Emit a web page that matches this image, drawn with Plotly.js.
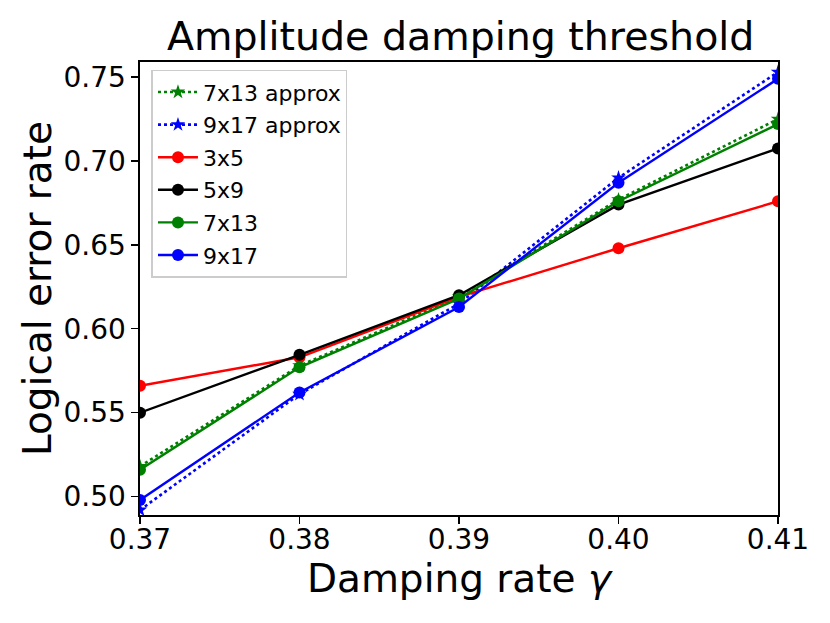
<!DOCTYPE html>
<html>
<head>
<meta charset="utf-8">
<script src="https://cdn.plot.ly/plotly-3.0.1.min.js"></script>
<style>
  html, body { margin: 0; padding: 0; background: #fff; }
  #chart { width: 830px; height: 623px; }
</style>
</head>
<body>
<div id="chart"></div>
<script>
const gamma = [0.37, 0.38, 0.39, 0.40, 0.41];

const approx7x13 = [0.518, 0.578, 0.619, 0.677, 0.725];
const approx9x17 = [0.492, 0.561, 0.615, 0.690, 0.753];
const err3x5 = [0.566, 0.583, 0.619, 0.648, 0.676];
const err5x9 = [0.550, 0.5845, 0.620, 0.674, 0.7075];
const err7x13 = [0.516, 0.577, 0.618, 0.676, 0.722];
const err9x17 = [0.498, 0.562, 0.613, 0.687, 0.749];

const xTicks = [0.37, 0.38, 0.39, 0.40, 0.41];
const yTicks = [0.50, 0.55, 0.60, 0.65, 0.70, 0.75];

function approxTrace(y, name, color) {
	return {
		x: gamma, y: y, name: name, legendgroup: name,
		type: "scatter", mode: "lines+markers",
		line: { color: color, width: 2.6, dash: "dot" },
		marker: { symbol: "star", size: 11, color: color }
	};
}
function solidTrace(y, name, color) {
	return {
		x: gamma, y: y, name: name, legendgroup: name,
		type: "scatter", mode: "lines+markers",
		line: { color: color, width: 2.4 },
		marker: { symbol: "circle", size: 12, color: color }
	};
}

const traces = [
	approxTrace(approx7x13, "7x13 approx", "#008000"),
	approxTrace(approx9x17, "9x17 approx", "#0000ff"),
	solidTrace(err3x5, "3x5", "#ff0000"),
	solidTrace(err5x9, "5x9", "#000000"),
	solidTrace(err7x13, "7x13", "#008000"),
	solidTrace(err9x17, "9x17", "#0000ff")
];

Plotly.newPlot("chart", traces, {
	width: 830,
	height: 623,
	paper_bgcolor: "#fff",
	plot_bgcolor: "#fff",
	font: { family: "DejaVu Sans, sans-serif", color: "#000", size: 28 },
	margin: { l: 140, r: 52, t: 62, b: 108 },
	title: {
		text: "Amplitude damping threshold",
		font: { size: 39.5 },
		x: 0.555, xanchor: "center",
		y: 0.942, yanchor: "middle"
	},
	xaxis: {
		range: [0.37, 0.41],
		tickvals: xTicks,
		tickformat: ".2f",
		ticks: "outside", ticklen: 7, tickwidth: 1.3, tickcolor: "#000",
		ticklabelstandoff: -8,
		showline: true, linecolor: "#000", linewidth: 1.6, mirror: true,
		showgrid: false, zeroline: false,
		tickfont: { size: 28 },
		title: { text: "Damping rate <i>γ</i>", font: { size: 39 }, standoff: 0 }
	},
	yaxis: {
		range: [0.489, 0.759],
		tickvals: yTicks,
		tickformat: ".2f",
		ticks: "outside", ticklen: 7, tickwidth: 1.3, tickcolor: "#000",
		showline: true, linecolor: "#000", linewidth: 1.6, mirror: true,
		showgrid: false, zeroline: false,
		tickfont: { size: 28 },
		title: { text: "Logical error rate", font: { size: 39 }, standoff: 0 }
	},
	legend: {
		x: 0.018, y: 0.983, xanchor: "left", yanchor: "top",
		bgcolor: "rgba(255,255,255,0.8)",
		bordercolor: "#cccccc", borderwidth: 1.5,
		font: { size: 22 },
		tracegroupgap: 1,
		itemwidth: 40
	},
	showlegend: true
}, {
	displayModeBar: false,
	staticPlot: true
});
</script>
</body>
</html>
